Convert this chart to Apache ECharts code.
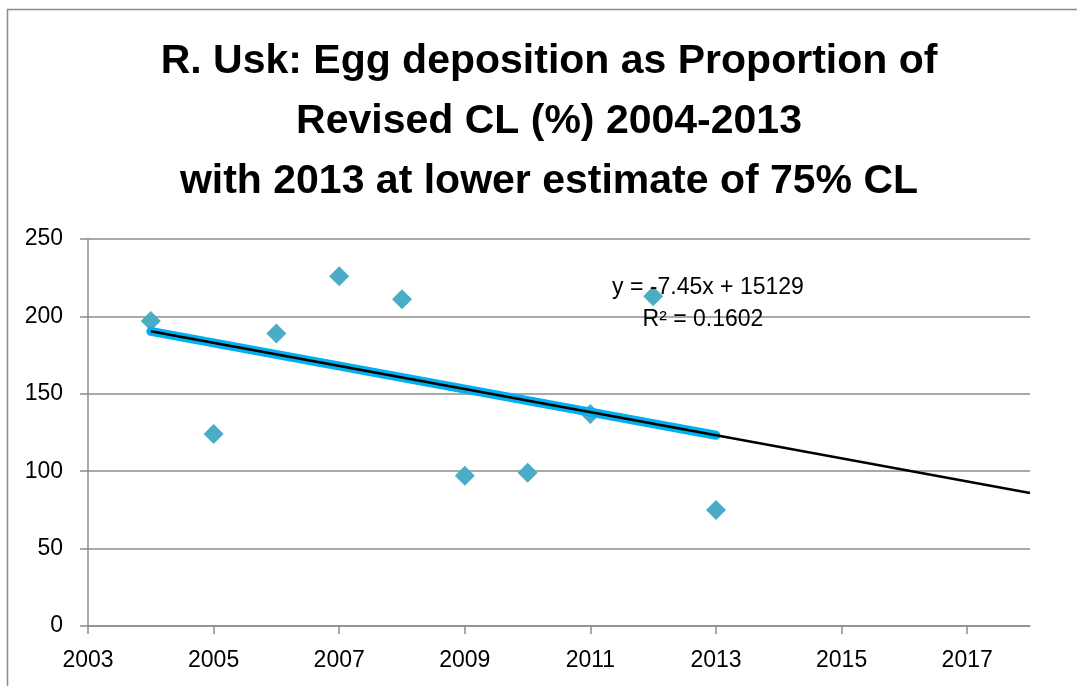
<!DOCTYPE html>
<html><head><meta charset="utf-8">
<script src="https://cdn.jsdelivr.net/npm/echarts@6/dist/echarts.min.js"></script>
<style>html,body{margin:0;padding:0;background:#fff}#c{width:1077px;height:686px}</style>
</head><body><div id="c"></div>
<script>
const years = [2004, 2005, 2006, 2007, 2008, 2009, 2010, 2011, 2012, 2013];
const eggPct = [197, 124, 189, 226, 211, 97, 99, 137, 213, 75];
const xTicks = [2003, 2005, 2007, 2009, 2011, 2013, 2015, 2017];
const yTicks = [0, 50, 100, 150, 200, 250];
const trendEnd = 2018;
const titleLines = ['R. Usk: Egg deposition as Proportion of', 'Revised CL (%) 2004-2013', 'with 2013 at lower estimate of 75% CL'];
const eqLines = ['y = -7.45x + 15129', 'R² = 0.1602'];

// least-squares trend line from the data
const n = years.length;
const mx = years.reduce((a, b) => a + b, 0) / n;
const my = eggPct.reduce((a, b) => a + b, 0) / n;
let sxy = 0, sxx = 0;
for (let i = 0; i < n; i++) { sxy += (years[i] - mx) * (eggPct[i] - my); sxx += (years[i] - mx) ** 2; }
const slope = sxy / sxx, icpt = my - slope * mx;
const fit = x => slope * x + icpt;
const first = years[0], last = years[n - 1];

const FONT = "'Liberation Sans', Arial, sans-serif";
const chart = echarts.init(document.getElementById('c'), null, { renderer: 'canvas' });
chart.setOption({
  animation: false,
  backgroundColor: '#fff',
  grid: { left: 88, right: 47, top: 239, bottom: 60 },
  xAxis: {
    type: 'value', min: xTicks[0], max: trendEnd,
    axisLine: { show: true, lineStyle: { color: '#8c8c8c', width: 1.5 } },
    axisTick: { show: true, length: 8, customValues: xTicks, lineStyle: { color: '#8c8c8c', width: 1.5 } },
    axisLabel: { customValues: xTicks, formatter: v => String(v), color: '#000', fontSize: 23, fontFamily: FONT, margin: 23 },
    splitLine: { show: false }
  },
  yAxis: {
    type: 'value', min: yTicks[0], max: yTicks[yTicks.length - 1], interval: yTicks[1] - yTicks[0],
    axisLine: { show: true, lineStyle: { color: '#8c8c8c', width: 1.5 } },
    axisTick: { show: true, length: 8, lineStyle: { color: '#8c8c8c', width: 1.5 } },
    axisLabel: { formatter: v => String(v), color: '#000', fontSize: 23, fontFamily: FONT, margin: 25 },
    splitLine: { show: true, lineStyle: { color: '#8c8c8c', width: 1.5 } }
  },
  graphic: [
    { type: 'rect', shape: { x: 7.5, y: 9.5, width: 1200, height: 800 }, style: { fill: null, stroke: '#8c8c8c', lineWidth: 1.5 }, silent: true, z: -10 },
    { type: 'text', x: 549, y: 62, style: { text: titleLines[0], fontSize: 41, fontWeight: 'bold', fontFamily: FONT, fill: '#000', textAlign: 'center', textVerticalAlign: 'middle' }, z: 100 },
    { type: 'text', x: 549, y: 122, style: { text: titleLines[1], fontSize: 41, fontWeight: 'bold', fontFamily: FONT, fill: '#000', textAlign: 'center', textVerticalAlign: 'middle' }, z: 100 },
    { type: 'text', x: 549, y: 182, style: { text: titleLines[2], fontSize: 41, fontWeight: 'bold', fontFamily: FONT, fill: '#000', textAlign: 'center', textVerticalAlign: 'middle' }, z: 100 },
    { type: 'text', x: 708, y: 288, style: { text: eqLines[0], fontSize: 23, fontFamily: FONT, fill: '#000', textAlign: 'center', textVerticalAlign: 'middle' }, z: 100 },
    { type: 'text', x: 703, y: 320, style: { text: eqLines[1], fontSize: 23, fontFamily: FONT, fill: '#000', textAlign: 'center', textVerticalAlign: 'middle' }, z: 100 }
  ],
  series: [
    {
      type: 'scatter', data: years.map((y, i) => [y, eggPct[i]]),
      symbol: 'diamond', symbolSize: 20,
      itemStyle: { color: '#4BACC6', opacity: 1 }, z: 3
    },
    {
      type: 'line', data: [[first, fit(first)], [last, fit(last)]],
      showSymbol: false, lineStyle: { color: '#00B0F0', width: 9, cap: 'round' }, z: 4
    },
    {
      type: 'line', data: [[first, fit(first)], [trendEnd, fit(trendEnd)]],
      showSymbol: false, lineStyle: { color: '#000', width: 2.5 }, z: 5
    }
  ]
});
</script></body></html>
